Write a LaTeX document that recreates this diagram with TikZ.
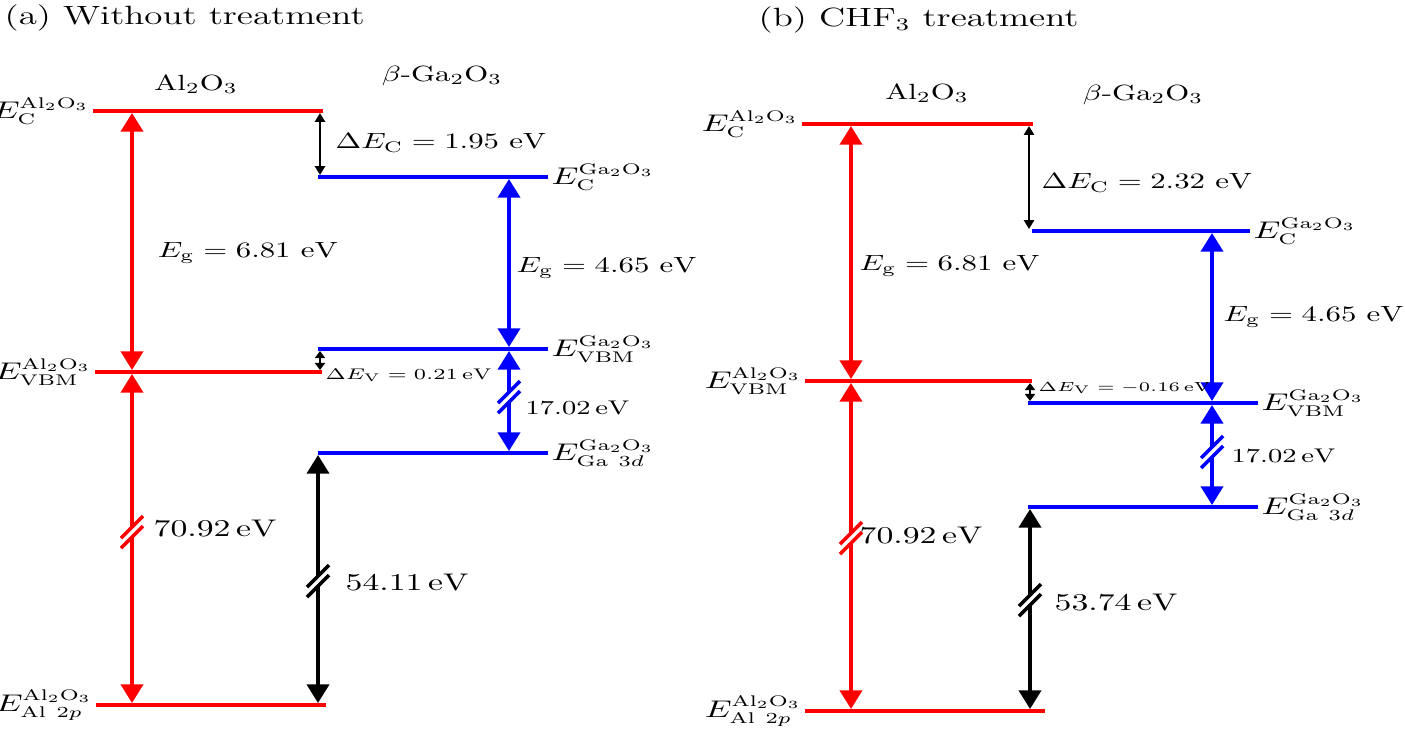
\documentclass[tikz,border=0pt]{standalone}
\usepackage{tikz}
\usetikzlibrary{arrows.meta}

% break mark on a vertical arrow at (#1,#2) in colour #3
\newcommand{\brk}[3]{%
  \begin{scope}[shift={(#1,#2)}]
    \fill[white] (-5,0) -- (5,-10) -- (5,0) -- (-5,10) -- cycle;
    \draw[#3, line width=1.6pt] (-11,6) -- (11,-16) (-11,16) -- (11,-6);
  \end{scope}}

\begin{document}
\begin{tikzpicture}[x=0.4545pt, y=-0.4545pt,
    lvl/.style={line width=1.8pt},
    bigarr/.style={line width=1.8pt, shorten <=0.9pt, shorten >=0.9pt, {Triangle[length=8.5pt,width=10pt]}-{Triangle[length=8.5pt,width=10pt]}},
    dcarr/.style={line width=1.3pt, shorten <=0.9pt, shorten >=0.9pt, {Triangle[length=4pt,width=4.5pt]}-{Triangle[length=4pt,width=4.5pt]}},
    dvarr/.style={line width=1.2pt, shorten <=0.9pt, shorten >=0.9pt, {Triangle[length=3.2pt,width=4.5pt]}-{Triangle[length=3.2pt,width=4.5pt]}},
    txt/.style={xscale=1.4, inner sep=1pt},
    lbl/.style={txt, font=\fontsize{10.5}{12}\selectfont},
    val/.style={txt, font=\fontsize{10.5}{12}\selectfont},
    ttl/.style={txt, font=\large}]
  \useasboundingbox (0,0) rectangle (1405,734);

  % ---------------- (a) without treatment ----------------
  \node[ttl, anchor=west] (ta) at (1,18) {(a) Without treatment};
  \node[txt] (ma) at (196,84) {Al$_2$O$_3$};
  \node[txt] (na) at (442,76) {$\beta$-Ga$_2$O$_3$};

  \coordinate (aC1) at (93,111);  \coordinate (aC2) at (323,111);
  \coordinate (aV1) at (95,372);  \coordinate (aV2) at (322,372);
  \coordinate (aP1) at (96,705);  \coordinate (aP2) at (326,705);
  \coordinate (gC1) at (318,177); \coordinate (gC2) at (548,177);
  \coordinate (gV1) at (318,349); \coordinate (gV2) at (548,349);
  \coordinate (gD1) at (318,453); \coordinate (gD2) at (548,453);

  \coordinate (a1) at (132,111);  \coordinate (a2) at (132,372);  \coordinate (a3) at (132,705);
  \coordinate (a4) at (320,111);  \coordinate (a5) at (320,177);
  \coordinate (a6) at (320,349);  \coordinate (a7) at (320,372);
  \coordinate (a8) at (509,177);  \coordinate (a9) at (509,349);  \coordinate (a10) at (509,453);
  \coordinate (a11) at (318,453); \coordinate (a12) at (318,705);

  \draw[bigarr, red] (a1) -- (a2);
  \draw[bigarr, red] (a2) -- (a3);
  \draw[dcarr] (a4) -- (a5);
  \draw[dvarr] (a6) -- (a7);
  \draw[bigarr, blue] (a8) -- (a9);
  \draw[bigarr, blue] (a9) -- (a10);
  \draw[bigarr] (a11) -- (a12);
  \brk{132}{532}{red}
  \brk{318}{581}{black}
  \brk{509}{397}{blue}

  \draw[lvl, red] (aC1) -- (aC2);
  \draw[lvl, red] (aV1) -- (aV2);
  \draw[lvl, red] (aP1) -- (aP2);
  \draw[lvl, blue] (gC1) -- (gC2);
  \draw[lvl, blue] (gV1) -- (gV2);
  \draw[lvl, blue] (gD1) -- (gD2);

  \node[lbl, anchor=east] (eaC) at (aC1) {$E_{\mathrm{C}}^{\mathrm{Al_2O_3}}$};
  \node[lbl, anchor=east] (eaV) at (aV1) {$E_{\mathrm{VBM}}^{\mathrm{Al_2O_3}}$};
  \node[lbl, anchor=east] (eaP) at (aP1) {$E_{\mathrm{Al}\ 2p}^{\mathrm{Al_2O_3}}$};
  \node[lbl, anchor=west] (egC) at (gC2) {$E_{\mathrm{C}}^{\mathrm{Ga_2O_3}}$};
  \node[lbl, anchor=west] (egV) at (gV2) {$E_{\mathrm{VBM}}^{\mathrm{Ga_2O_3}}$};
  \node[lbl, anchor=west] (egD) at (gD2) {$E_{\mathrm{Ga}\ 3d}^{\mathrm{Ga_2O_3}}$};

  \node[txt] (l1) at (248,253) {$E_{\mathrm{g}}=6.81~\mathrm{eV}$};
  \node[txt, anchor=west] (l2) at (332,143) {$\Delta E_{\mathrm{C}}=1.95~\mathrm{eV}$};
  \node[txt, anchor=west] (l3) at (513,268) {$E_{\mathrm{g}}=4.65~\mathrm{eV}$};
  \node[txt, anchor=west, font=\fontsize{7.3}{9}\selectfont] (l4) at (322,375) {$\Delta E_{\mathrm{V}}=0.21\,\mathrm{eV}$};
  \node[txt, anchor=west, font=\small] (l5) at (522,408) {$17.02\,\mathrm{eV}$};
  \node[val, anchor=west] (l6) at (150,528) {$70.92\,\mathrm{eV}$};
  \node[val, anchor=west] (l7) at (342,582) {$54.11\,\mathrm{eV}$};

  % ---------------- (b) CHF3 treatment ----------------
  \node[ttl, anchor=west] (tb) at (755,20) {(b) CHF$_3$ treatment};
  \node[txt] (mb) at (927,93) {Al$_2$O$_3$};
  \node[txt] (nb) at (1143,95) {$\beta$-Ga$_2$O$_3$};

  \coordinate (bC1) at (802,124);  \coordinate (bC2) at (1033,124);
  \coordinate (bV1) at (805,381);  \coordinate (bV2) at (1032,381);
  \coordinate (bP1) at (805,711);  \coordinate (bP2) at (1045,711);
  \coordinate (hC1) at (1032,231); \coordinate (hC2) at (1250,231);
  \coordinate (hV1) at (1028,403); \coordinate (hV2) at (1258,403);
  \coordinate (hD1) at (1028,507); \coordinate (hD2) at (1258,507);

  \coordinate (b1) at (851,124);   \coordinate (b2) at (851,381);   \coordinate (b3) at (851,711);
  \coordinate (b4) at (1029,124);  \coordinate (b5) at (1029,231);
  \coordinate (b6) at (1030,381);  \coordinate (b7) at (1030,403);
  \coordinate (b8) at (1212,231);  \coordinate (b9) at (1212,403);  \coordinate (b10) at (1212,507);
  \coordinate (b11) at (1030,507); \coordinate (b12) at (1030,711);

  \draw[bigarr, red] (b1) -- (b2);
  \draw[bigarr, red] (b2) -- (b3);
  \draw[dcarr] (b4) -- (b5);
  \draw[dvarr] (b6) -- (b7);
  \draw[bigarr, blue] (b8) -- (b9);
  \draw[bigarr, blue] (b9) -- (b10);
  \draw[bigarr] (b11) -- (b12);
  \brk{851}{538}{red}
  \brk{1030}{600}{black}
  \brk{1212}{452}{blue}

  \draw[lvl, red] (bC1) -- (bC2);
  \draw[lvl, red] (bV1) -- (bV2);
  \draw[lvl, red] (bP1) -- (bP2);
  \draw[lvl, blue] (hC1) -- (hC2);
  \draw[lvl, blue] (hV1) -- (hV2);
  \draw[lvl, blue] (hD1) -- (hD2);

  \node[lbl, anchor=east] (ebC) at (bC1) {$E_{\mathrm{C}}^{\mathrm{Al_2O_3}}$};
  \node[lbl, anchor=east] (ebV) at (bV1) {$E_{\mathrm{VBM}}^{\mathrm{Al_2O_3}}$};
  \node[lbl, anchor=east] (ebP) at (bP1) {$E_{\mathrm{Al}\ 2p}^{\mathrm{Al_2O_3}}$};
  \node[lbl, anchor=west] (ehC) at (hC2) {$E_{\mathrm{C}}^{\mathrm{Ga_2O_3}}$};
  \node[lbl, anchor=west] (ehV) at (hV2) {$E_{\mathrm{VBM}}^{\mathrm{Ga_2O_3}}$};
  \node[lbl, anchor=west] (ehD) at (hD2) {$E_{\mathrm{Ga}\ 3d}^{\mathrm{Ga_2O_3}}$};

  \node[txt, anchor=west] (k1) at (856,266) {$E_{\mathrm{g}}=6.81~\mathrm{eV}$};
  \node[txt, anchor=west] (k2) at (1038,183) {$\Delta E_{\mathrm{C}}=2.32~\mathrm{eV}$};
  \node[txt, anchor=west] (k3) at (1220,317) {$E_{\mathrm{g}}=4.65~\mathrm{eV}$};
  \node[txt, anchor=west, font=\fontsize{6}{7}\selectfont] (k4) at (1035,388) {$\Delta E_{\mathrm{V}}=-0.16\,\mathrm{eV}$};
  \node[txt, anchor=west, font=\small] (k5) at (1228,456) {$17.02\,\mathrm{eV}$};
  \node[val, anchor=west] (k6) at (856,535) {$70.92\,\mathrm{eV}$};
  \node[val, anchor=west] (k7) at (1051,602) {$53.74\,\mathrm{eV}$};
\end{tikzpicture}
\end{document}
